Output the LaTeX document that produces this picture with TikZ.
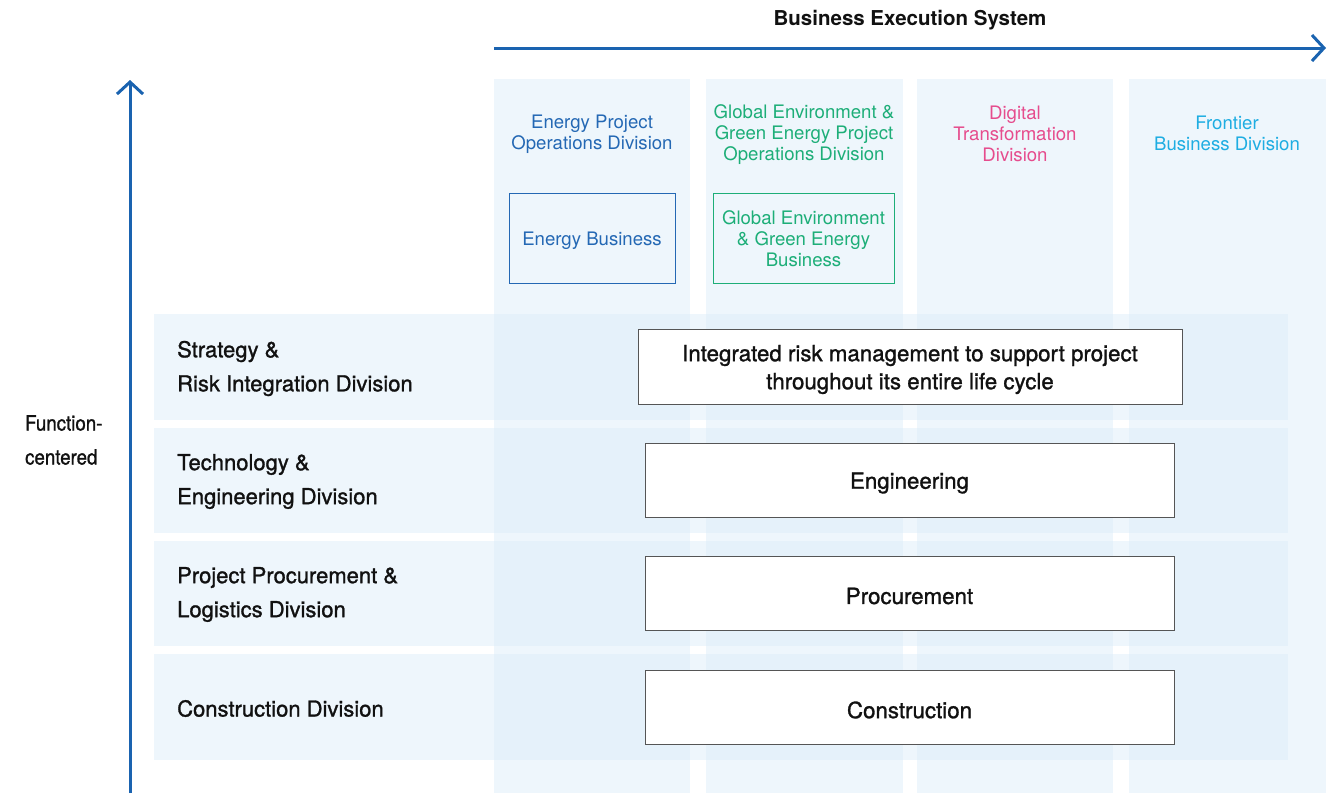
\documentclass[tikz,border=0pt]{standalone}
\usepackage{fontspec}
\setmainfont{TeX Gyre Heros}
\newfontfamily\medfont{TeX Gyre Heros}[FakeBold=1.2]
\usetikzlibrary{arrows.meta}
\definecolor{bgblue}{HTML}{DDEDF9}
\definecolor{axisblue}{HTML}{1A63B0}
\definecolor{cblue}{HTML}{2468B4}
\definecolor{cgreen}{HTML}{1DAE78}
\definecolor{cpink}{HTML}{E64C8D}
\definecolor{ccyan}{HTML}{1EADE2}
\definecolor{boxline}{HTML}{555555}
\definecolor{txt}{HTML}{111111}
\tikzset{
  band/.style={fill=bgblue, fill opacity=0.5, draw=none},
  axis/.style={draw=axisblue, line width=3pt, -{Straight Barb[length=12pt,width=26pt,line width=3pt]}},
  colhead/.style={font=\fontsize{18.6}{21}\selectfont, align=center, inner sep=0pt},
  rowlabel/.style={font=\medfont\fontsize{22}{34}\selectfont, text=txt, align=left, anchor=west, inner sep=0pt},
  funcbox/.style={draw=boxline, line width=1pt, fill=white, text=txt, font=\medfont\fontsize{22.3}{28}\selectfont, align=center, inner sep=0pt},
  functext/.style={text=txt, font=\medfont\fontsize{22.3}{28}\selectfont, align=center, inner sep=0pt},
  bizbox/.style={line width=1pt, fill=none, font=\fontsize{18.6}{21}\selectfont, align=center, inner sep=0pt},
}
\begin{document}
\begin{tikzpicture}[x=1pt,y=-1pt]
\useasboundingbox (0,0) rectangle (1335,793);
% columns
\fill[band] (494,79) rectangle (690,793);
\fill[band] (706,79) rectangle (903,793);
\fill[band] (917,79) rectangle (1113,793);
\fill[band] (1129,79) rectangle (1326,793);
% rows
\fill[band] (154,314) rectangle (1288,420);
\fill[band] (154,428) rectangle (1288,533);
\fill[band] (154,541) rectangle (1288,646);
\fill[band] (154,654) rectangle (1288,760);
% axes
\coordinate (hs) at (494,48);
\coordinate (he) at (1326,48);
\coordinate (vs) at (130,793);
\coordinate (ve) at (130,80);
\draw[axis] (hs) -- (he);
\draw[axis] (vs) -- (ve);
\node[font=\fontsize{20.5}{24}\selectfont\bfseries, text=txt, inner sep=0pt] (bes) at (910,20) {Business Execution System};
\node[font=\medfont\fontsize{21}{34}\selectfont, text=txt, align=left, anchor=west, inner sep=0pt, xscale=0.89] (fc) at (25,440) {Function-\\centered};
% column headers
\node[colhead, text=cblue] (h1) at (592,134.5) {Energy Project\\Operations Division};
\node[colhead, text=cgreen] (h2) at (804,134.5) {Global Environment \&\\Green Energy Project\\Operations Division};
\node[colhead, text=cpink] (h3) at (1015,133.5) {Digital\\Transformation\\Division};
\node[colhead, text=ccyan] (h4) at (1227,133.5) {Frontier\\Business Division};
% business boxes
\node[bizbox, draw=cblue, text=cblue, minimum width=166pt, minimum height=90pt] (b1) at (592,238) {};
\node[bizbox, text=cblue] (b1t) at (592,240.5) {Energy Business};
\node[bizbox, draw=cgreen, text=cgreen, minimum width=181pt, minimum height=90pt] (b2) at (803.5,238) {};
\node[bizbox, text=cgreen] (b2t) at (803.5,239) {Global Environment\\\& Green Energy\\Business};
% row labels
\node[rowlabel] (r1) at (177,368.5) {Strategy \&\\Risk Integration Division};
\node[rowlabel] (r2) at (177,481.5) {Technology \&\\Engineering Division};
\node[rowlabel] (r3) at (177,594.5) {Project Procurement \&\\Logistics Division};
\node[rowlabel] (r4) at (177,708.5) {Construction Division};
% function boxes
\node[funcbox, minimum width=544pt, minimum height=75pt] (f1) at (910,366.5) {};
\node[functext] (f1t) at (910,369.5) {Integrated risk management to support project\\throughout its entire life cycle};
\node[funcbox, minimum width=529pt, minimum height=74pt] (f2) at (909.5,480) {};
\node[functext] (f2t) at (909.5,483) {Engineering};
\node[funcbox, minimum width=529pt, minimum height=74pt] (f3) at (909.5,593) {};
\node[functext] (f3t) at (909.5,596) {Procurement};
\node[funcbox, minimum width=529pt, minimum height=74pt] (f4) at (909.5,707) {};
\node[functext] (f4t) at (909.5,710) {Construction};
\end{tikzpicture}
\end{document}
